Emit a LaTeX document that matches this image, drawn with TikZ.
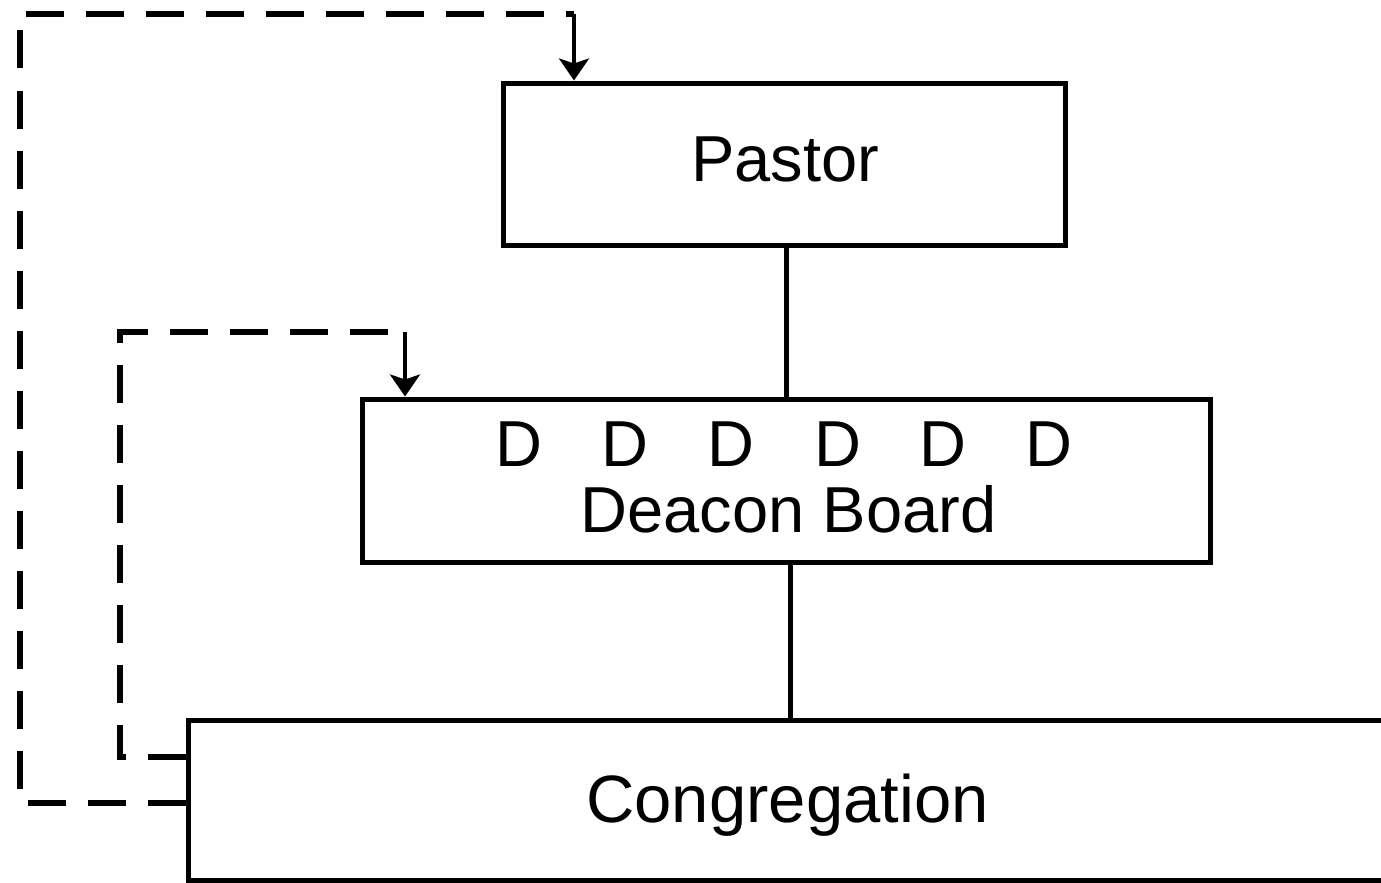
\documentclass[tikz,border=0pt]{standalone}
\usepackage{fontspec}
\setmainfont{Liberation Sans}
\usetikzlibrary{arrows.meta}
\begin{document}
\begin{tikzpicture}[x=1pt,y=-1pt,
  box/.style={draw, line width=5pt, inner sep=0pt, rectangle},
  lbl/.style={inner sep=0pt, anchor=base, font=\fontsize{65}{78}\selectfont},
  link/.style={line width=5pt},
  dashlink/.style={line width=5.5pt, dash pattern=on 38pt off 22pt},
  arrowlink/.style={line width=4pt, -{Stealth[width=30pt,length=22pt,inset=5pt]}}]
\useasboundingbox (0,0) rectangle (1381,883);

% boxes
\node[box, minimum width=562pt, minimum height=162pt] (pastor) at (784,164) {};
\node[box, minimum width=848pt, minimum height=163pt] (deacon) at (786,480.5) {};
\node[box, minimum width=1207pt, minimum height=160pt] (cong) at (791.5,800) {};

% labels
\node[lbl] (tpastor) at (785,181) {Pastor};
\foreach \i/\x in {1/519,2/625,3/731,4/838,5/943,6/1049}
  \node[lbl] (d\i) at (\x,466) {D};
\node[lbl] (tdeacon) at (788.5,532) {Deacon Board};
\node[lbl, font=\fontsize{67}{80}\selectfont] (tcong) at (787.5,822) {Congregation};

% chain of authority
\draw[link] ([xshift=2pt]pastor.south) -- ([xshift=2pt]pastor.south |- deacon.north);
\draw[link] ([xshift=4pt]deacon.south) -- ([xshift=4pt]deacon.south |- cong.north);

% outer feedback loop: congregation to pastor
\coordinate (o1) at (20,803);
\coordinate (o2) at (20,14);
\coordinate (o3) at (574,14);
\draw[dashlink] (cong.west |- o1) -- (o1) -- (o2) -- (o3);
\draw[arrowlink] (o3) -- (o3 |- pastor.north);

% inner feedback loop: congregation to deacon board
\coordinate (i1) at (120,757);
\coordinate (i2) at (120,332);
\coordinate (i3) at (405,332);
\draw[dashlink] (cong.west |- i1) -- (i1) -- (i2) -- (i3);
\draw[arrowlink] (i3) -- (i3 |- deacon.north);
\end{tikzpicture}
\end{document}
